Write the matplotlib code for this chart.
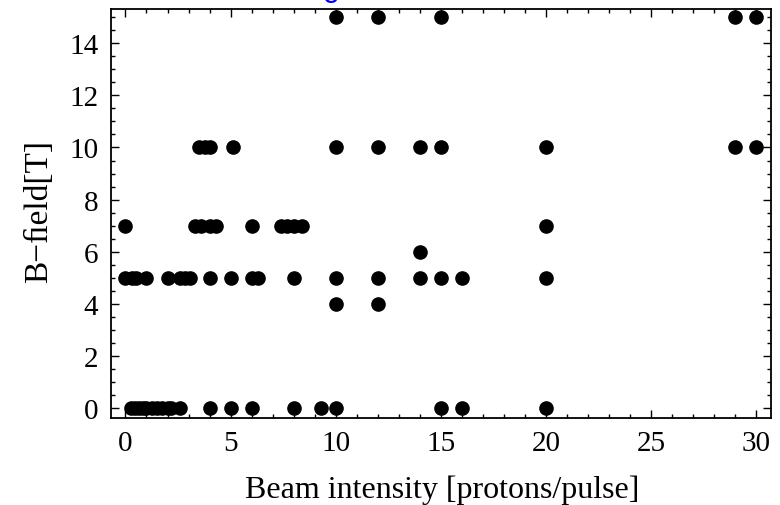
import matplotlib
matplotlib.use("Agg")
import matplotlib.pyplot as plt
from matplotlib.ticker import MultipleLocator

plt.rcParams['font.family'] = ['Liberation Serif', 'DejaVu Serif']

# beam intensities measured at each B-field setting
field_levels = [0, 4, 5, 6, 7, 10, 15]
intensity_0T = [0.25, 0.45, 0.65, 0.85, 1.0, 1.25, 1.5, 1.75, 2.0, 2.15, 2.6,
                4.0, 5.0, 6.0, 8.0, 9.3, 10, 15, 16, 20]
intensity_4T = [10, 12]
intensity_5T = [0, 0.3, 0.5, 1.0, 2.0, 2.6, 2.85, 3.05, 4.0, 5.0, 6.0, 6.3,
                8.0, 10, 12, 14, 15, 16, 20]
intensity_6T = [14]
intensity_7T = [0, 3.3, 3.6, 4.0, 4.3, 6.0, 7.4, 7.7, 8.0, 8.4, 20]
intensity_10T = [3.5, 3.8, 4.0, 5.1, 10, 12, 14, 15, 20, 29, 30]
intensity_15T = [10, 12, 15, 29, 30]

rows = [intensity_0T, intensity_4T, intensity_5T, intensity_6T,
        intensity_7T, intensity_10T, intensity_15T]

x = []
y = []
for b, row in zip(field_levels, rows):
    x += row
    y += [b] * len(row)

fig = plt.figure(figsize=(7.8, 5.06), dpi=100)
ax = fig.add_axes([0.142, 0.172, 0.846, 0.808])

ax.plot(x, y, 'o', color='black', markersize=9.5, clip_on=False)

ax.set_xlim(-0.7, 30.7)
ax.set_ylim(-0.38, 15.31)
ax.xaxis.set_major_locator(MultipleLocator(5))
ax.xaxis.set_minor_locator(MultipleLocator(1))
ax.yaxis.set_major_locator(MultipleLocator(2))
ax.yaxis.set_minor_locator(MultipleLocator(0.5))
ax.tick_params(which='both', direction='in', top=True, right=True, width=1)
ax.tick_params(which='major', length=6)
ax.tick_params(which='minor', length=3)
ax.tick_params(axis='x', which='major', labelsize=21, pad=9)
ax.tick_params(axis='y', which='major', labelsize=21, pad=9)
for s in ax.spines.values():
    s.set_linewidth(1.3)

ax.set_xlabel("Beam intensity [protons/pulse]", fontsize=23, va='center')
ax.xaxis.set_label_coords(0.5025, -0.1736)
ax.set_ylabel("B\u2212\ufb01eld[T]", fontsize=24, va='center')
ax.yaxis.set_label_coords(-0.1086, 0.508)

# cut-off title fragment at the top edge
fig.text(0.425, 1.008, "g", color='blue', fontsize=22, ha='center',
         va='baseline', family='Liberation Sans')

fig.savefig("out.png", dpi=100)
